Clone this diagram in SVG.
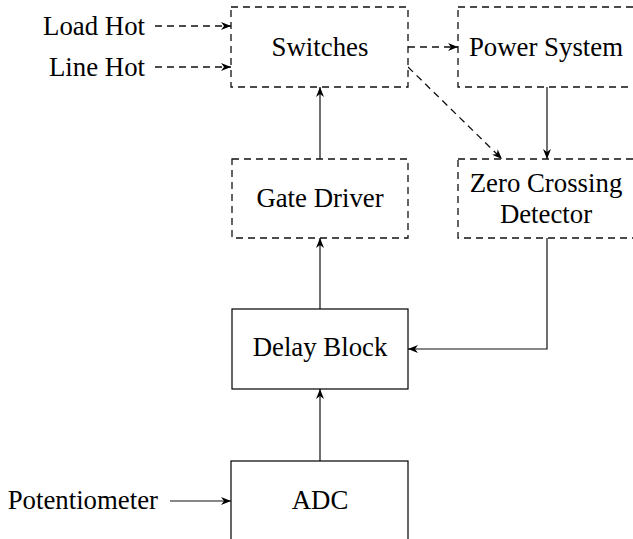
<svg xmlns="http://www.w3.org/2000/svg" width="633" height="539" viewBox="0 0 633 539">
<style>
text{font-family:"Liberation Serif","Times New Roman",serif;font-size:26.8px;fill:#000}
.box{fill:#fff;stroke:#000;stroke-width:1.2}
.dbox{fill:#fff;stroke:#111;stroke-width:1.3;stroke-dasharray:7,5}
.ln{fill:none;stroke:#111;stroke-width:1.2}
.dl{fill:none;stroke:#111;stroke-width:1.3;stroke-dasharray:7,5}
</style>
<defs>
<marker id="ah" viewBox="0 0 10 8" refX="10" refY="4" markerWidth="10" markerHeight="8" markerUnits="userSpaceOnUse" orient="auto">
<path d="M0,0 L10,4 L0,8 L3,4 Z" fill="#000"/>
</marker>
</defs>
<g id="connectors">
<path class="dl" d="M155,26 H231" marker-end="url(#ah)"/>
<path class="dl" d="M155,67 H231" marker-end="url(#ah)"/>
<path class="dl" d="M408,47 H458" marker-end="url(#ah)"/>
<path class="dl" d="M408,67 L502,159" marker-end="url(#ah)"/>
<path class="ln" d="M547,87 V159" marker-end="url(#ah)"/>
<path class="ln" d="M320,159 V87" marker-end="url(#ah)"/>
<path class="ln" d="M320,309 V238" marker-end="url(#ah)"/>
<path class="ln" d="M547,238 V349 H408" marker-end="url(#ah)"/>
<path class="ln" d="M320,461 V389" marker-end="url(#ah)"/>
<path class="ln" d="M170,501 H231" marker-end="url(#ah)"/>
</g>
<g id="load-hot"><text x="145" y="35" text-anchor="end">Load Hot</text></g>
<g id="line-hot"><text x="145" y="76" text-anchor="end">Line Hot</text></g>
<g id="potentiometer"><text x="158" y="509" text-anchor="end">Potentiometer</text></g>
<g id="switches"><rect class="dbox" x="231" y="7" width="177" height="80"/><text x="320" y="56" text-anchor="middle">Switches</text></g>
<g id="power-system"><rect class="dbox" x="458" y="7" width="177" height="80"/><text x="546" y="56" text-anchor="middle">Power System</text></g>
<g id="gate-driver"><rect class="dbox" x="232" y="159" width="176" height="79"/><text x="320" y="207" text-anchor="middle">Gate Driver</text></g>
<g id="zero-crossing"><rect class="dbox" x="458" y="159" width="177" height="79"/><text x="546" y="192" text-anchor="middle">Zero Crossing</text><text x="546" y="223" text-anchor="middle">Detector</text></g>
<g id="delay-block"><rect class="box" x="232" y="309" width="176" height="80"/><text x="320" y="356" text-anchor="middle">Delay Block</text></g>
<g id="adc"><rect class="box" x="231" y="461" width="177" height="80"/><text x="320" y="509" text-anchor="middle">ADC</text></g>
</svg>
